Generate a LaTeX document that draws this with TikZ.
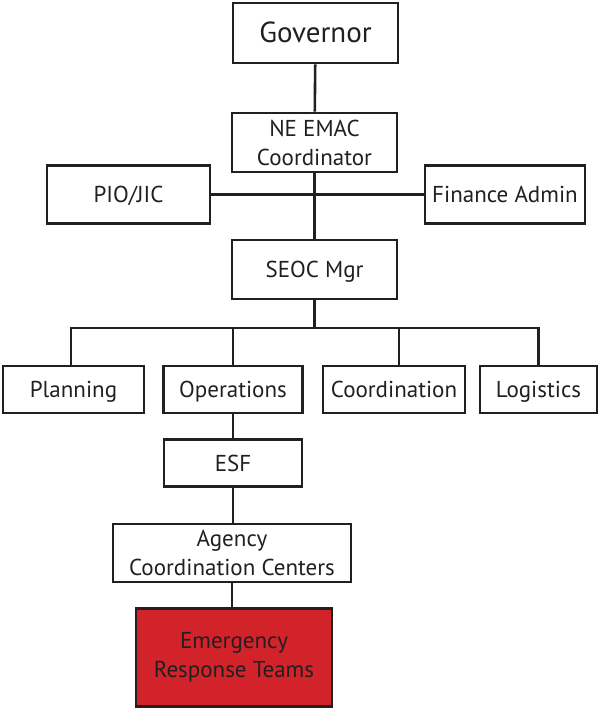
\documentclass[tikz,border=0pt]{standalone}
\usepackage{fontspec}
\setmainfont{PT Sans}
\usepackage{xcolor}
\usepackage{tikz}
\usetikzlibrary{positioning}
\definecolor{ink}{RGB}{35,31,32}
\definecolor{ertred}{RGB}{210,35,42}
\tikzset{blk/.style={rectangle,draw=ink,line width=2.6pt,text=ink,inner sep=0pt,align=center,font=\fontsize{23}{29}\selectfont},
         one/.style={blk,text height=17pt,text depth=1pt},
         lnk/.style={draw=ink,line width=2.6pt}}

\begin{document}
\begin{tikzpicture}[x=1pt,y=-1pt]
    \useasboundingbox (0,0) rectangle (602,708);
    \node[one,minimum width=165,minimum height=60,text height=21pt,font=\fontsize{29}{32}\selectfont] (gov) at (315.5,33) {Governor};
    \node[blk,minimum width=165,minimum height=59] (emac) at (314.5,142.5) {NE EMAC\\Coordinator};
    \node[one,minimum width=163,minimum height=58] (pio) at (128.5,194.5) {PIO/JIC};
    \node[one,minimum width=160,minimum height=58] (fin) at (505,194.5) {Finance Admin};
    \node[one,minimum width=165,minimum height=59] (seoc) at (314.5,269.5) {SEOC Mgr};
    \coordinate (bus) at (0,328);
    \node[one,minimum width=141,minimum height=47] (plan) at (73.5,389.5) {Planning};
    \node[one,minimum width=139,minimum height=47] (ops) at (233,389.5) {Operations};
    \node[one,minimum width=142,minimum height=47] (coord) at (394,389.5) {Coordination};
    \node[one,minimum width=117,minimum height=47] (log) at (538.5,389.5) {Logistics};
    \node[one,minimum width=138,minimum height=47] (esf) at (233,463) {ESF};
    \node[blk,minimum width=238,minimum height=58] (agcy) at (232,553) {Agency\\Coordination Centers};
    \node[blk,fill=ertred,minimum width=196,minimum height=98] (ert) at (234,657.5) {Emergency\\Response Teams};

    \draw [lnk] (gov) -- (emac);
    \draw [lnk] (emac.south) -- (emac.south |- seoc.north);
    \draw [lnk] (pio) -- (fin);
    \draw [lnk] (seoc.south) -- (seoc.south |- bus);
    \draw [lnk] ([xshift=-2.5pt]plan.north) -- ([xshift=-2.5pt]plan.north |- bus) -- (log.north |- bus) -- (log.north);
    \draw [lnk] (ops.north) -- (ops.north |- bus);
    \draw [lnk] ([xshift=5pt]coord.north) -- ([xshift=5pt]coord.north |- bus);
    \draw [lnk] (ops) -- (esf);
    \draw [lnk] (esf) -- (esf |- agcy.north);
    \draw [lnk] (agcy.south) -- (agcy.south |- ert.north);
\end{tikzpicture}
\end{document}
